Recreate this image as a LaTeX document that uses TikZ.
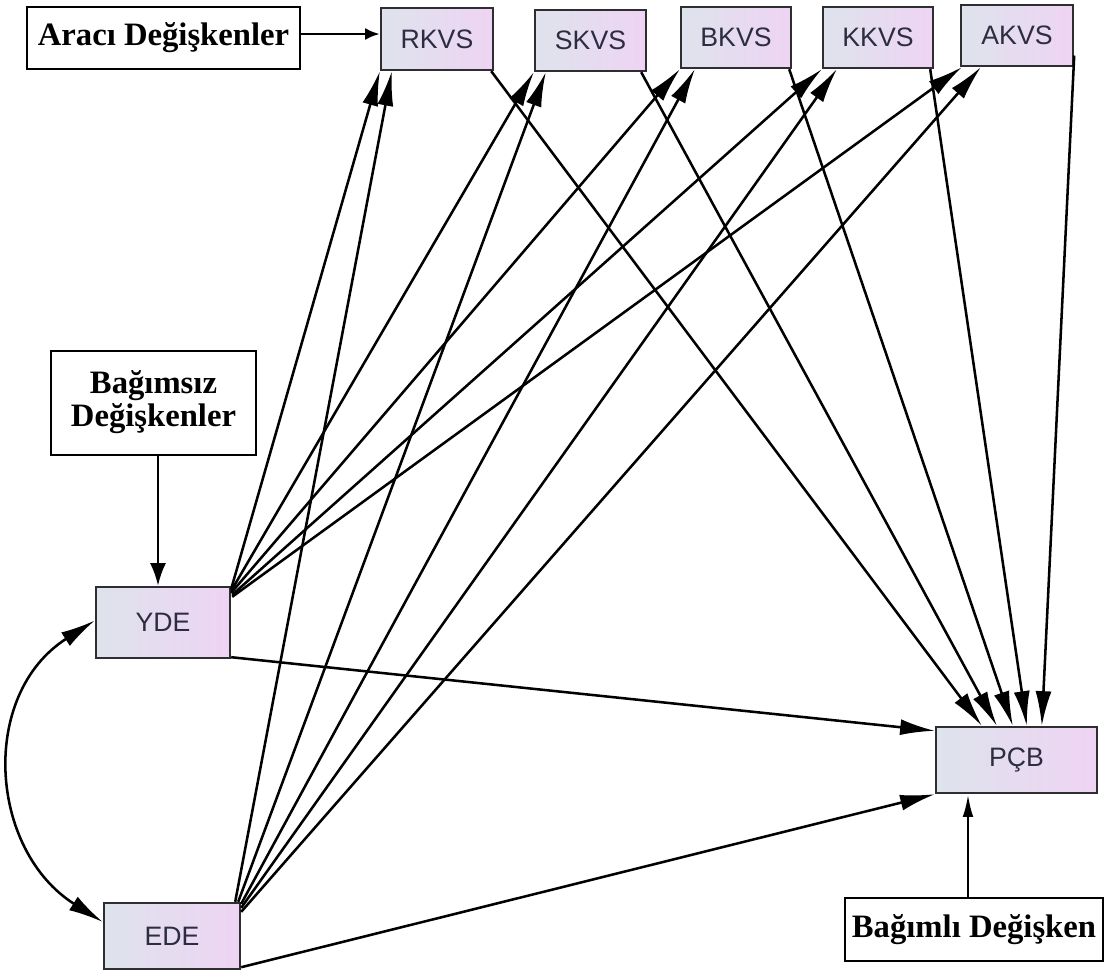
\documentclass[tikz,border=0pt]{standalone}
\usepackage{fontspec}
\usetikzlibrary{arrows.meta,calc}
\newfontfamily\tagfont{Liberation Serif}
\newfontfamily\varfont{Liberation Sans}
\definecolor{varleft}{RGB}{222,227,236}
\definecolor{varright}{RGB}{238,212,243}
\definecolor{varline}{RGB}{45,45,50}
\definecolor{vartext}{RGB}{45,45,65}
\begin{document}
\begin{tikzpicture}[x=0.75pt,y=-0.75pt,
  var/.style={draw=varline, line width=1.8pt, left color=varleft, right color=varright,
    text=vartext, inner sep=0pt, font=\varfont\fontsize{20}{22}\selectfont},
  tagbox/.style={draw=black, line width=1.2pt, fill=white, inner sep=0pt, align=center,
    font=\tagfont\bfseries\fontsize{24.5}{22}\selectfont},
  link/.style={line width=1.9pt, -{Latex[length=26pt,width=12pt]}},
  bothlink/.style={line width=1.9pt, {Latex[length=26pt,width=12pt]}-{Latex[length=26pt,width=12pt]}},
  tagarrow/.style={line width=2pt, -{Latex[length=11pt,width=9pt]}},
  downarrow/.style={line width=2pt, -{Latex[length=17pt,width=12pt]}},
  uparrow/.style={line width=2pt, -{Latex[length=17pt,width=8pt]}}]
\fill[white] (0,0) rectangle (1109,972);
\useasboundingbox (0,0) rectangle (1109,972);

% category labels
\node[tagbox, minimum width=204.75pt, minimum height=46.5pt] (araci) at (163.5,38) {Aracı Değişkenler};
\node[tagbox, minimum width=153.75pt, minimum height=78pt] (bagimsiz) at (153.5,403) {\raisebox{3pt}{\begin{tabular}{@{}c@{}}Bağımsız\\[1pt]Değişkenler\end{tabular}}};
\node[tagbox, minimum width=193.5pt, minimum height=47.25pt] (bagimli) at (974,929.5) {Bağımlı Değişken};

% mediators
\node[var, minimum width=84pt,    minimum height=46.5pt]  (rkvs) at (437,39)     {RKVS};
\node[var, minimum width=83.25pt, minimum height=45.75pt] (skvs) at (590.5,40.5) {SKVS};
\node[var, minimum width=82.5pt,  minimum height=45.75pt] (bkvs) at (736,37.5)   {BKVS};
\node[var, minimum width=82.5pt,  minimum height=45.75pt] (kkvs) at (878,37.5)   {KKVS};
\node[var, minimum width=84pt,    minimum height=45.75pt] (akvs) at (1017,35.5)  {AKVS};

% independent and dependent variables
\node[var, minimum width=100.5pt,  minimum height=53.25pt] (yde) at (163,622.5)  {YDE};
\node[var, minimum width=102pt,    minimum height=49.5pt]  (ede) at (172,936)    {EDE};
\node[var, minimum width=120.75pt, minimum height=49.5pt]  (pcb) at (1016.5,760) {PÇB};

% label pointers
\draw[tagarrow]  ($(araci.east)+(0,-4)$) -- ($(rkvs.west)+(0,-5)$);
\draw[downarrow] ($(bagimsiz.south)+(4.5,0)$) -- ($(yde.north)+(-5,0)$);
\draw[uparrow]   ($(bagimli.north)+(-6,0)$) -- ($(pcb.south)+(-48.5,0)$);

% YDE to mediators
\draw[link] ($(yde.north east)+(0,3)$)  -- (rkvs.south west);
\draw[link] ($(yde.north east)+(0,5)$)  -- (skvs.south west);
\draw[link] ($(yde.north east)+(0,7)$)  -- (bkvs.south west);
\draw[link] ($(yde.north east)+(1,9)$)  -- (kkvs.south west);
\draw[link] ($(yde.north east)+(1,11)$) -- ($(akvs.south west)+(2,0)$);

% EDE to mediators
\draw[link] ($(ede.north east)+(-6,0)$) -- ($(rkvs.south west)+(12,0)$);
\draw[link] ($(ede.north east)+(-3,0)$) -- ($(skvs.south west)+(12,0)$);
\draw[link] ($(ede.north east)+(0,2)$)  -- ($(bkvs.south west)+(15,0)$);
\draw[link] ($(ede.north east)+(0,6)$)  -- ($(kkvs.south west)+(15,0)$);
\draw[link] ($(ede.north east)+(0,10)$) -- ($(akvs.south west)+(21,0)$);

% mediators to PÇB
\draw[link] ($(rkvs.south east)+(-3,0)$) -- ($(pcb.north west)+(47,0)$);
\draw[link] ($(skvs.south east)+(-6,0)$) -- ($(pcb.north west)+(62,0)$);
\draw[link] ($(bkvs.south east)+(-3,0)$) -- ($(pcb.north west)+(78,0)$);
\draw[link] ($(kkvs.south east)+(-4,0)$) -- ($(pcb.north west)+(92,0)$);
\draw[link] ($(akvs.east)+(0,20)$)       -- ($(pcb.north west)+(107,0)$);

% direct effects
\draw[link] ($(yde.south east)+(0,-2)$) -- ($(pcb.north west)+(0,5)$);
\draw[link] ($(ede.south east)+(0,-3)$) -- (pcb.south west);

% covariance between YDE and EDE
\draw[bothlink] ($(yde.west)+(0,-2)$) .. controls +(-116,74) and +(-114,-72) .. ($(ede.west)+(0,-14)$);
\end{tikzpicture}
\end{document}
